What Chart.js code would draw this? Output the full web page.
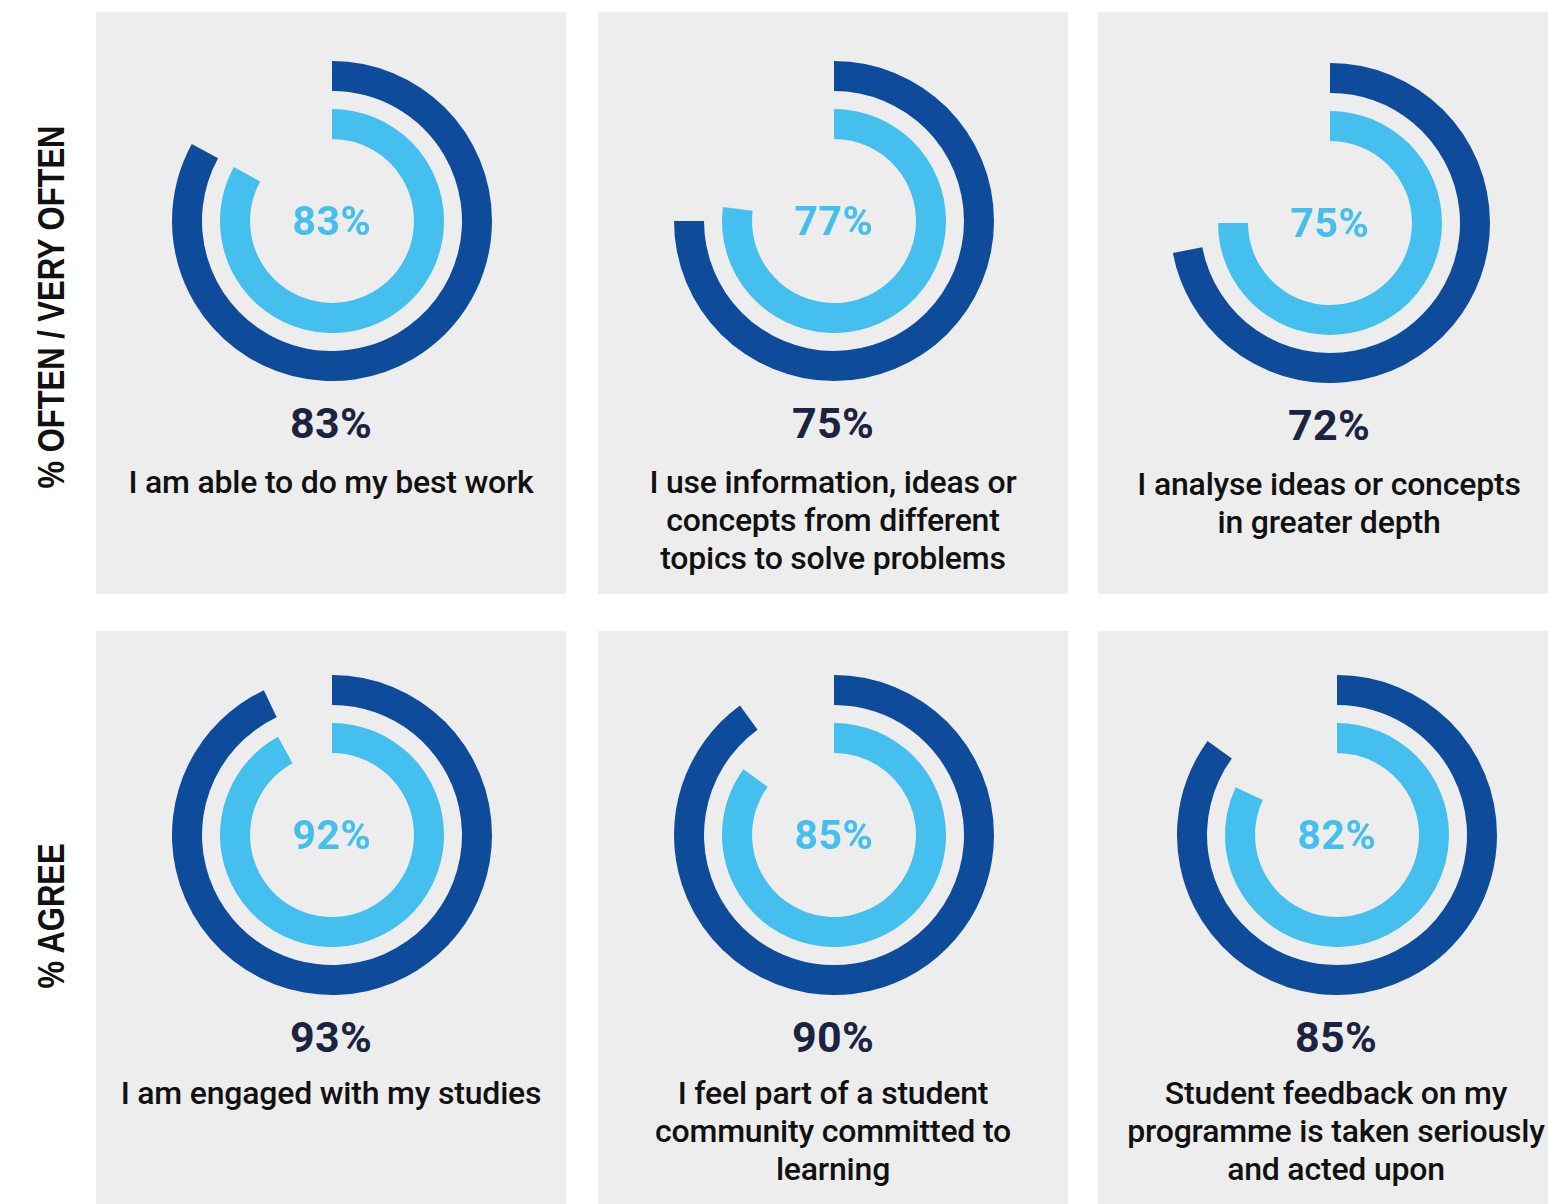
<!DOCTYPE html>
<html>
<head>
<meta charset="utf-8">
<script src="https://cdn.jsdelivr.net/npm/chart.js@4/dist/chart.umd.min.js"></script>
<style>
  body { margin: 0; background: #fff; }
  #board { position: relative; width: 1548px; height: 1204px; overflow: hidden; font-family: Roboto, "Noto Sans", sans-serif; }
  .panel { position: absolute; width: 470px; background: #ededed; }
  .ring { position: absolute; width: 320px; height: 320px; }
  .ring canvas { display: block; }
  .inner-pct { position: absolute; left: 0; width: 320px; top: 136px; line-height: 48px; text-align: center;
    color: #45bfed; font-size: 41px; font-weight: 700; letter-spacing: 0.5px; }
  .pct { position: absolute; width: 470px; text-align: center; line-height: 48px;
    color: #1b2340; font-size: 43px; font-weight: 700; letter-spacing: 0.3px; }
  .statement { position: absolute; width: 530px; text-align: center; line-height: 38px;
    color: #111; font-size: 32px; font-weight: 500; letter-spacing: -0.2px; }
  .row-title { position: absolute; left: 52px; transform: translate(-50%, -50%) rotate(-90deg) scaleX(0.86);
    white-space: nowrap; font-family: "Liberation Sans", sans-serif;
    font-weight: 700; font-size: 36px; color: #111; }
</style>
</head>
<body>
<div id="board"></div>
<script>
// survey results, % of students
const outerValues = [83, 75, 72, 93, 90, 85]
const innerValues = [83, 77, 75, 92, 85, 82]
const statements = [
  "I am able to do my best work",
  "I use information, ideas or\nconcepts from different\ntopics to solve problems",
  "I analyse ideas or concepts\nin greater depth",
  "I am engaged with my studies",
  "I feel part of a student\ncommunity committed to\nlearning",
  "Student feedback on my\nprogramme is taken seriously\nand acted upon",
]
const rowTitles = ["% OFTEN / VERY OFTEN", "% AGREE"]

const outerColor = "#0e4b9b"
const innerColor = "#45bfed"

const colLeft = [96, 598, 1098]
const rowTop = [12, 631]
const rowHeight = [582, 573]
const rowTitleY = [307, 916]
// small nudges of each card's contents [dx, dy]
const nudge = [[0, 0], [0, 0], [-4, 2], [0, -5], [0, -5], [3, -5]]

const board = document.querySelector("#board")

rowTitles.forEach((title, r) => {
  const el = document.createElement("div")
  el.className = "row-title"
  el.style.top = rowTitleY[r] + "px"
  el.textContent = title
  board.appendChild(el)
})

statements.forEach((text, i) => {
  const r = Math.floor(i / 3)
  const c = i % 3
  const [dx, dy] = nudge[i]

  const panel = document.createElement("div")
  panel.className = "panel"
  panel.style.left = colLeft[c] + "px"
  panel.style.top = rowTop[r] + "px"
  panel.style.height = rowHeight[r] + "px"
  board.appendChild(panel)

  const ring = document.createElement("div")
  ring.className = "ring"
  ring.style.left = 76 + dx + "px"
  ring.style.top = 49 + dy + "px"
  ring.innerHTML = `<canvas width="320" height="320"></canvas><div class="inner-pct">${innerValues[i]}%</div>`
  panel.appendChild(ring)

  const pct = document.createElement("div")
  pct.className = "pct"
  pct.style.left = dx + "px"
  pct.style.top = 387 + dy + "px"
  pct.textContent = outerValues[i] + "%"
  panel.appendChild(pct)

  const st = document.createElement("div")
  st.className = "statement"
  st.style.left = -30 + dx + "px"
  st.style.top = 451 + (r ? dy - 3 : dy) + "px"
  st.innerHTML = text.split("\n").join("<br>")
  panel.appendChild(st)

  drawRings(ring.querySelector("canvas"), outerValues[i], innerValues[i])
})

// two progress rings with an empty ring between them
function drawRings(canvas, outer, inner) {
  new Chart(canvas, {
    type: "doughnut",
    data: {
      datasets: [
        { data: [outer, 100 - outer], backgroundColor: [outerColor, "rgba(0,0,0,0)"], weight: 1 },
        { data: [100], backgroundColor: ["rgba(0,0,0,0)"], weight: 0.6 },
        { data: [inner, 100 - inner], backgroundColor: [innerColor, "rgba(0,0,0,0)"], weight: 1 },
      ],
    },
    options: {
      responsive: false,
      animation: false,
      events: [],
      cutout: "51.25%",
      borderWidth: 0,
      hoverOffset: 0,
      layout: { padding: 0 },
      plugins: { legend: { display: false }, tooltip: { enabled: false } },
    },
  })
}
</script>
</body>
</html>
